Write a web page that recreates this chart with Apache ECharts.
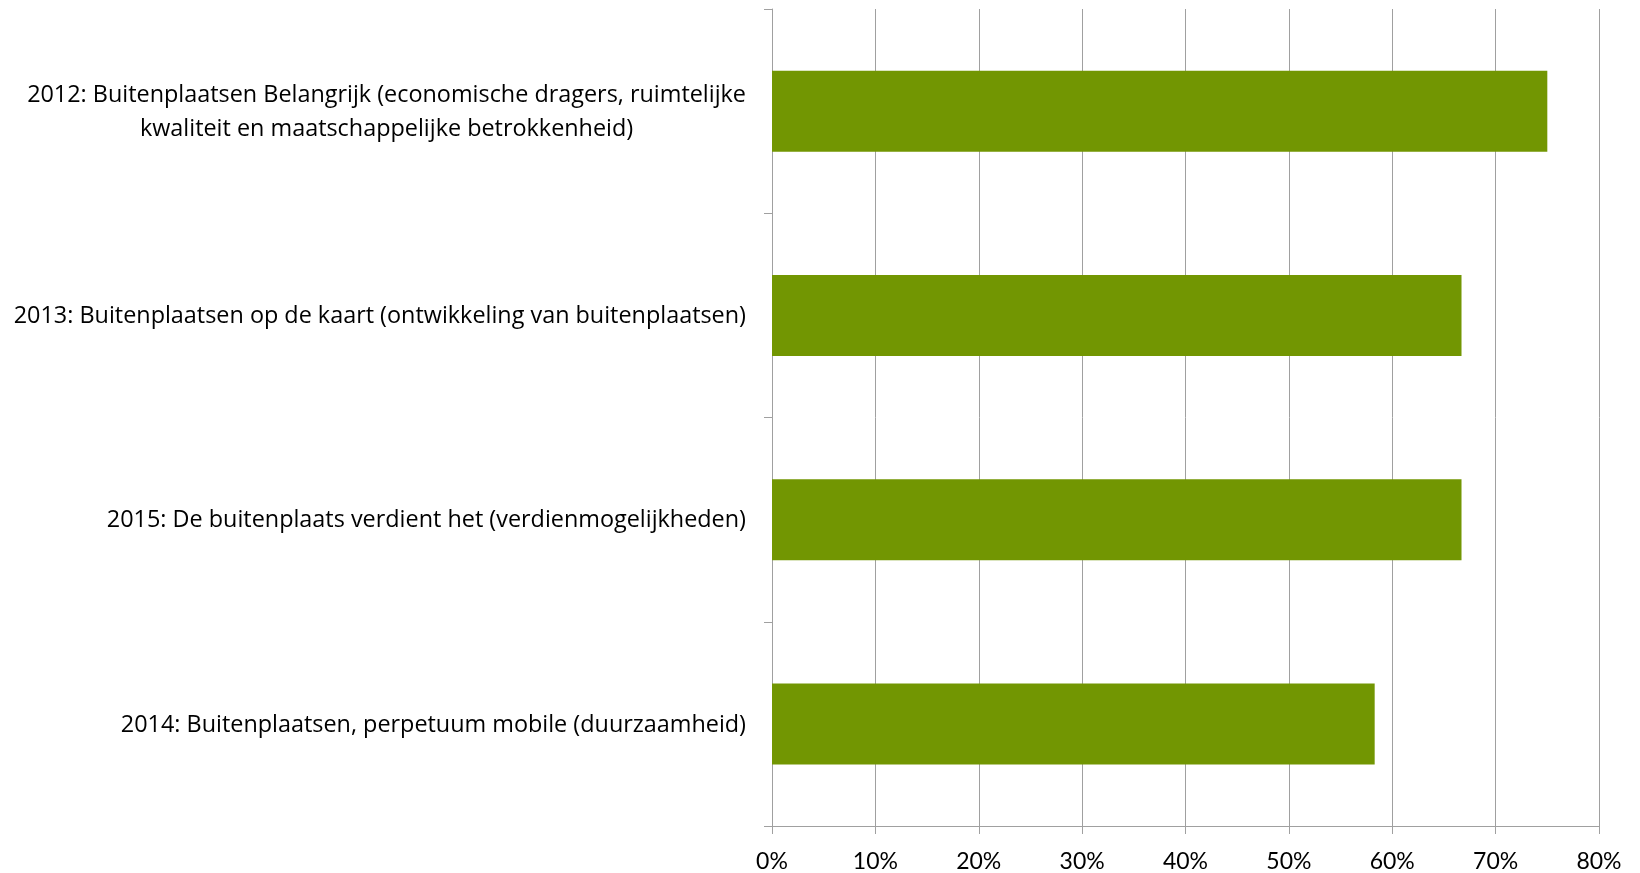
<!DOCTYPE html>
<html>
<head>
<meta charset="utf-8">
<script src="https://cdn.jsdelivr.net/npm/echarts@6/dist/echarts.min.js"></script>
<style>
html,body{margin:0;padding:0;background:#fff;}
#chart{width:1640px;height:873px;}
</style>
</head>
<body>
<div id="chart"></div>
<script>
const categories = [
  "2012: Buitenplaatsen Belangrijk (economische dragers, ruimtelijke\nkwaliteit en maatschappelijke betrokkenheid)",
  "2013: Buitenplaatsen op de kaart (ontwikkeling van buitenplaatsen)",
  "2015: De buitenplaats verdient het (verdienmogelijkheden)",
  "2014: Buitenplaatsen, perpetuum mobile (duurzaamheid)"
];
const values = [75, 66.7, 66.7, 58.3];
const xTicks = { min: 0, max: 80, interval: 10 };

const XFONT = "Lato";
const YFONT = "Open Sans";
const YSIZE = 23.4;
const chart = echarts.init(document.getElementById('chart'), null, { renderer: 'canvas' });
chart.setOption({
  animation: false,
  backgroundColor: '#ffffff',
  grid: { left: 772, right: 41, top: 9, bottom: 47, containLabel: false },
  xAxis: {
    type: 'value',
    min: xTicks.min, max: xTicks.max, interval: xTicks.interval,
    axisLine: { show: true, lineStyle: { color: '#a0a0a0', width: 1 } },
    axisTick: { show: true, length: 8, lineStyle: { color: '#a0a0a0' } },
    splitLine: { show: true, lineStyle: { color: '#a0a0a0', width: 1 } },
    axisLabel: {
      formatter: v => v + '%',
      color: '#000', fontFamily: XFONT, fontSize: 23, margin: 24
    }
  },
  yAxis: {
    type: 'category',
    inverse: true,
    data: categories,
    axisLine: { show: true, lineStyle: { color: '#a0a0a0', width: 1 } },
    axisTick: { show: true, length: 8, lineStyle: { color: '#a0a0a0' } },
    splitLine: { show: false },
    axisLabel: {
      color: '#000', fontFamily: YFONT, fontSize: YSIZE, margin: 26,
      lineHeight: 34,
      formatter: v => v.split('\n').map(s => '{c|' + s + '}').join('\n'),
      rich: { c: { align: 'center', fontFamily: YFONT, fontSize: YSIZE, lineHeight: 34, color: '#000', padding: [2, 0, 0, 0] } }
    }
  },
  series: [{
    type: 'bar',
    data: values,
    barWidth: 81,
    itemStyle: { color: '#729602' }
  }]
});
</script>
</body>
</html>
